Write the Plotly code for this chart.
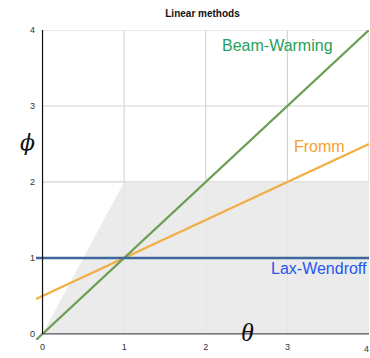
import plotly.graph_objects as go

# data
theta_line = [-0.08, 4.0]
lax_wendroff = [1.0, 1.0]
fromm = [0.46, 2.5]
beam_warming = [-0.08, 4.0]
tvd_theta = [0, 1, 4, 4, 0]
tvd_phi = [0, 2, 2, 0, 0]
x_ticks = [0, 1, 2, 3]
x_tick_last = 4
y_ticks = [0, 1, 2, 3, 4]

fig = go.Figure()

# gridlines as shapes
shapes = []
for gx in [1, 2, 3, 4]:
    shapes.append(dict(type="line", x0=gx, x1=gx, y0=0, y1=4, xref="x", yref="y",
                       line=dict(color="#cfcfcf", width=1), layer="below"))
for gy in [1, 2, 3, 4]:
    shapes.append(dict(type="line", x0=0, x1=4, y0=gy, y1=gy, xref="x", yref="y",
                       line=dict(color="#d4d4d4", width=1.2), layer="below"))
# axis lines
shapes.append(dict(type="line", x0=0, x1=4, y0=0, y1=0, xref="x", yref="y",
                   line=dict(color="#555555", width=1.2)))
shapes.append(dict(type="line", x0=0, x1=0, y0=0, y1=4, xref="x", yref="y",
                   line=dict(color="#111111", width=1.2)))

fig.add_trace(go.Scatter(x=tvd_theta, y=tvd_phi, fill="toself", fillcolor="rgba(232,232,232,0.85)",
                         line=dict(width=0), mode="lines", hoverinfo="skip", showlegend=False))
fig.add_trace(go.Scatter(x=theta_line, y=fromm, mode="lines",
                         line=dict(color="#f2ae42", width=2.2), showlegend=False))
fig.add_trace(go.Scatter(x=theta_line, y=beam_warming, mode="lines",
                         line=dict(color="#6a9e52", width=2.2), showlegend=False))
fig.add_trace(go.Scatter(x=theta_line, y=lax_wendroff, mode="lines",
                         line=dict(color="#3f679c", width=2.6), showlegend=False))

annotations = [
    dict(x=2.88, y=3.79, text="Beam-Warming", showarrow=False,
         font=dict(family="Liberation Sans, Arial", size=16, color="#25a05c")),
    dict(x=3.39, y=2.47, text="Fromm", showarrow=False,
         font=dict(family="Liberation Sans, Arial", size=16, color="#f5a22e")),
    dict(x=3.39, y=0.855, text="Lax-Wendroff", showarrow=False,
         font=dict(family="Liberation Sans, Arial", size=16, color="#2556ee")),
    dict(x=x_tick_last, y=0, yref="paper", yanchor="top", xanchor="right", yshift=-2, xshift=2,
         text=str(x_tick_last), showarrow=False,
         font=dict(family="Liberation Sans, Arial", size=9, color="#333")),
    dict(x=18, y=358 - 127.5, xref="paper", yref="paper", text="<i>ϕ</i>", showarrow=False,
         font=dict(family="DejaVu Serif", size=22, color="#111")),
    dict(x=247, y=358 - 349, xref="paper", yref="paper", text="<i>θ</i>", showarrow=False,
         font=dict(family="Liberation Serif, Times New Roman", size=26, color="#111")),
]
# convert pixel annotations to paper coords
L, R, T, B = 36, 1, 30, 18
W, H = 370, 358
for a in annotations:
    if a.get("xref") == "paper":
        a["x"] = (a["x"] - L) / (W - L - R)
        a["y"] = (a["y"] - B) / (H - T - B)

fig.update_layout(
    width=W, height=H,
    margin=dict(l=L, r=R, t=T, b=B),
    paper_bgcolor="white", plot_bgcolor="white",
    title=dict(text="<b>Linear methods</b>", x=0.5, xref="paper", y=1 - 13 / 358, yref="container",
               xanchor="center", yanchor="middle",
               font=dict(family="Liberation Sans, Arial", size=10, color="#111")),
    xaxis=dict(range=[-0.08, 4.0], tickvals=x_ticks, showgrid=False, zeroline=False, showline=False,
               tickfont=dict(family="Liberation Sans, Arial", size=9, color="#333"), fixedrange=True),
    yaxis=dict(range=[-0.08, 4.0], tickvals=y_ticks, showgrid=False, zeroline=False, showline=False,
               tickfont=dict(family="Liberation Sans, Arial", size=9, color="#333"), fixedrange=True),
    shapes=shapes,
    annotations=annotations,
)

fig.write_html("out.html")
